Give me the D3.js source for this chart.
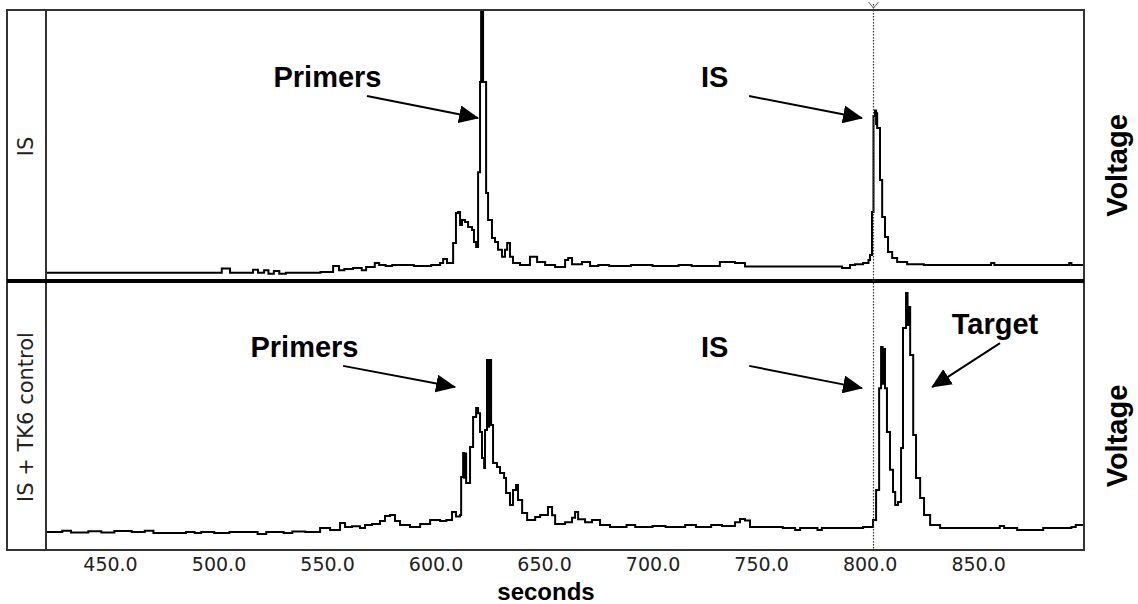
<!DOCTYPE html>
<html>
<head>
<meta charset="utf-8">
<script src="https://cdn.jsdelivr.net/npm/d3@7"></script>
<style>
  html, body { margin: 0; padding: 0; background: #fff; }
  svg { display: block; }
</style>
</head>
<body>
<div id="chart"></div>
<script>
(function() {
  'use strict';

  // time axis (seconds)
  const timeDomain = [420.5, 898.8];
  const tickTimes = [450, 500, 550, 600, 650, 700, 750, 800, 850];
  const cursorTime = 801.6;

  // trace 1: IS only  [seconds, relative voltage]
  const traceIS = [
    [420.5, 2.7], [501.5, 4.3], [505.3, 2.7], [515.9, 3.8], [518.2, 2.7], [521, 3.6], [523, 2.3],
    [525.5, 3.3], [528, 2.3], [531, 2.7], [547, 3.0], [552.8, 5.2], [555.5, 3.6], [558, 4.1],
    [562, 4.5], [566, 3.6], [568, 4.8], [572, 6.3], [574, 5.6], [577, 5.2], [580, 5.6],
    [590, 5.2], [598, 5.6], [602.1, 6.3], [603.5, 7.8], [605.3, 6.3], [608.1, 13.8], [609.4, 24.9],
    [610.4, 25.3], [611.3, 20.4], [612.2, 22.3], [613.6, 21.6], [615.0, 19.7], [616.8, 18.6],
    [617.7, 14.1], [618.7, 12.3], [619.6, 40.1], [620.5, 73.6], [621.0, 115], [621.3, 78],
    [621.6, 115], [621.9, 73.6], [623.3, 32.3], [624.2, 22.3], [626.0, 15.6], [627.4, 14.1],
    [628.8, 11.2], [630.6, 8.6], [632.0, 11.2], [633.0, 13.8], [634.3, 8.6], [635.7, 6.3],
    [638.9, 5.6], [643.5, 8.6], [646.8, 6.7], [650.5, 5.6], [655.1, 4.8], [659.7, 7.4],
    [661.1, 8.2], [662.9, 5.9], [667.5, 6.7], [671.2, 5.2], [675, 5.6], [680, 5.2], [690, 5.6],
    [700, 5.2], [712, 5.6], [718, 5.2], [731, 6.7], [738, 6.3], [742.6, 5.0], [768, 5.0],
    [787.3, 4.5], [791, 5.6], [793.3, 5.9], [797, 6.3], [799.5, 7.4], [800.2, 9.3], [801.1, 25.3],
    [801.8, 61], [802.5, 63], [803.0, 58], [803.2, 62], [803.5, 56.5], [804.8, 37.2],
    [805.8, 23.4], [807.1, 16.0], [808.5, 10.4], [810.4, 8.2], [812.7, 6.7], [817.3, 5.9],
    [825, 5.6], [856, 6.3], [857.5, 5.6], [892, 6.3], [893, 5.6], [898.8, 5.6]
  ];

  // trace 2: IS + TK6 control
  const traceTK6 = [
    [420.5, 6.7], [428, 7.2], [432, 6.5], [440, 7.0], [446, 6.5], [452, 7.1], [460, 6.7],
    [466, 7.2], [470, 6.3], [485, 6.7], [489, 6.3], [492, 6.7], [498, 6.3], [505, 6.7],
    [518, 6.0], [522, 6.7], [530, 6.3], [534, 6.9], [540, 6.7], [546.8, 8.2], [551.4, 7.5],
    [556, 10.1], [558.3, 8.6], [561.5, 8.9], [565.2, 8.2], [567.5, 9.3], [570.7, 9.7],
    [574.4, 10.8], [576.7, 12.7], [579, 13.1], [581.3, 10.8], [583.6, 9.3], [588.2, 8.6],
    [592.9, 9.7], [597.5, 11.2], [602.1, 10.8], [605, 11.2], [607.6, 14.2], [609.4, 12.5],
    [611.3, 13.1], [611.8, 27.2], [612.7, 36.2], [613.1, 27], [613.6, 36], [614.1, 25.0],
    [615.9, 38.4], [617.3, 49.6], [618.7, 53.0], [619.6, 51], [620.5, 44.0], [621.4, 34.3],
    [622.4, 30.6], [622.8, 44.8], [623.7, 70.9], [624.2, 46], [624.7, 70.9], [625.6, 46.6],
    [626.5, 32.5], [628.3, 31.0], [629.7, 28.7], [631.6, 26.9], [632.5, 21.3], [634.3, 16.8],
    [635.7, 22.4], [637.1, 24.3], [638.0, 18.7], [639.9, 13.8], [642.2, 11.2], [645.9, 12.3],
    [648.2, 13.1], [651.8, 16.0], [653.7, 13], [655.1, 9.7], [659.7, 10.4], [662.9, 12],
    [664.3, 14.2], [665.7, 11.5], [668.9, 10.4], [672.1, 11.2], [675.8, 9.3], [680.4, 8.6],
    [688, 9.3], [692, 8.6], [700, 9.0], [706, 8.6], [715, 9.3], [720, 8.6], [727, 9.3],
    [732, 9.0], [738, 10.4], [740.3, 11.6], [742.6, 11.0], [744.9, 8.6], [760, 8.2],
    [765.7, 7.5], [768, 8.2], [776, 7.5], [778, 8.2], [795, 8.2], [797, 8.6], [800.6, 8.6],
    [801.6, 11.2], [803.0, 22.4], [804.4, 60.4], [805.3, 75.7], [806.0, 62], [806.5, 75],
    [807.1, 60.4], [808.0, 44.0], [809.4, 29.9], [810.8, 21.6], [811.8, 16.8], [813.1, 17.9],
    [814.5, 38.1], [815.4, 82.8], [816.8, 95.9], [817.5, 84], [817.9, 90.7], [818.7, 72.8],
    [820.1, 42.9], [821.4, 26.9], [823.3, 19.4], [825.1, 13.1], [827.9, 9.3], [832.5, 8.2],
    [858, 8.2], [860, 9.0], [862, 8.2], [868, 7.5], [880, 8.2], [893, 8.6], [895, 9.3],
    [898.8, 9.0]
  ];

  // annotations in data units: label point, arrow start, arrow tip
  const notesIS = [
    { text: 'Primers', at: [550.2, 71.7], from: [568.4, 68.4], to: [619.6, 60.2] },
    { text: 'IS', at: [728.6, 71.7], from: [744.5, 68.4], to: [796.5, 60.2] }
  ];
  const notesTK6 = [
    { text: 'Primers', at: [539.6, 72.0], from: [557.4, 68.7], to: [609.0, 60.8] },
    { text: 'IS', at: [728.6, 72.0], from: [744.5, 68.7], to: [796.5, 60.4] },
    { text: 'Target', at: [857.8, 80.6], from: [860.1, 77.2], to: [828.8, 60.8] }
  ];

  const width = 1138, height = 604;
  const boxLeft = 7, boxTop = 10, plotLeft = 46, plotRight = 1084, boxBottom = 550;

  const panels = [
    { label: 'IS', data: traceIS, notes: notesIS, top: 11, bottom: 280 },
    { label: 'IS + TK6 control', data: traceTK6, notes: notesTK6, top: 282, bottom: 550 }
  ];

  const svg = d3.select('#chart').append('svg')
    .attr('width', width)
    .attr('height', height);

  const defs = svg.append('defs');
  defs.append('marker')
    .attr('id', 'arrow')
    .attr('viewBox', '0 0 20 18')
    .attr('refX', 19)
    .attr('refY', 9)
    .attr('markerWidth', 20)
    .attr('markerHeight', 18)
    .attr('markerUnits', 'userSpaceOnUse')
    .attr('orient', 'auto')
    .append('path')
    .attr('d', 'M0,0L20,9L0,18Z')
    .attr('fill', '#000');

  const x = d3.scaleLinear().domain(timeDomain).range([plotLeft, plotRight]);

  panels.forEach(function(p, i) {
    const y = d3.scaleLinear().domain([0, 100]).range([p.bottom, p.top]);

    defs.append('clipPath')
      .attr('id', 'clip' + i)
      .append('rect')
      .attr('x', plotLeft)
      .attr('y', p.top)
      .attr('width', plotRight - plotLeft)
      .attr('height', p.bottom - p.top);

    const line = d3.line()
      .x(function(d) { return x(d[0]); })
      .y(function(d) { return y(d[1]); })
      .curve(d3.curveStepAfter);

    svg.append('path')
      .datum(p.data)
      .attr('clip-path', 'url(#clip' + i + ')')
      .attr('fill', 'none')
      .attr('stroke', '#000')
      .attr('stroke-width', 2)
      .attr('d', line);

    // panel name in the left column
    svg.append('text')
      .attr('transform', 'translate(33,' + ((p.top + p.bottom) / 2 + 1) + ') rotate(-90)')
      .attr('text-anchor', 'middle')
      .style('font-family', 'DejaVu Sans, sans-serif')
      .style('font-size', '21px')
      .attr('fill', '#222')
      .text(p.label);

    // Voltage label on the right
    svg.append('text')
      .attr('transform', 'translate(1127,' + ((p.top + p.bottom) / 2 + 20) + ') rotate(-90)')
      .attr('text-anchor', 'middle')
      .style('font-family', 'Liberation Sans, Arial, sans-serif')
      .style('font-weight', 'bold')
      .style('font-size', '29px')
      .text('Voltage');

    // annotations
    const g = svg.append('g').attr('class', 'notes');
    g.selectAll('text')
      .data(p.notes)
      .enter()
      .append('text')
      .attr('x', function(d) { return x(d.at[0]); })
      .attr('y', function(d) { return y(d.at[1]); })
      .attr('text-anchor', 'middle')
      .style('font-family', 'Liberation Sans, Arial, sans-serif')
      .style('font-weight', 'bold')
      .style('font-size', '29px')
      .text(function(d) { return d.text; });
    g.selectAll('line')
      .data(p.notes)
      .enter()
      .append('line')
      .attr('x1', function(d) { return x(d.from[0]); })
      .attr('y1', function(d) { return y(d.from[1]); })
      .attr('x2', function(d) { return x(d.to[0]); })
      .attr('y2', function(d) { return y(d.to[1]); })
      .attr('stroke', '#000')
      .attr('stroke-width', 2)
      .attr('marker-end', 'url(#arrow)');
  });

  // frame
  svg.append('rect')
    .attr('x', boxLeft)
    .attr('y', boxTop)
    .attr('width', plotRight - boxLeft)
    .attr('height', boxBottom - boxTop)
    .attr('fill', 'none')
    .attr('stroke', '#333')
    .attr('stroke-width', 2);
  svg.append('line')
    .attr('x1', plotLeft).attr('x2', plotLeft)
    .attr('y1', boxTop).attr('y2', boxBottom)
    .attr('stroke', '#333')
    .attr('stroke-width', 2);
  svg.append('line')
    .attr('x1', boxLeft).attr('x2', plotRight)
    .attr('y1', 281).attr('y2', 281)
    .attr('stroke', '#000')
    .attr('stroke-width', 4);

  // dotted cursor
  const cx = Math.round(x(cursorTime)) + 0.5;
  svg.append('line')
    .attr('x1', cx).attr('x2', cx)
    .attr('y1', 4).attr('y2', boxBottom)
    .attr('stroke', '#333')
    .attr('stroke-width', 1.2)
    .attr('stroke-dasharray', '1.5,1.5');
  svg.append('path')
    .attr('d', 'M' + (cx - 5) + ',2L' + cx + ',8L' + (cx + 5) + ',2')
    .attr('fill', 'none')
    .attr('stroke', '#555')
    .attr('stroke-width', 1);

  // x axis
  const axis = d3.axisBottom(x)
    .tickValues(tickTimes)
    .tickFormat(d3.format('.1f'))
    .tickSize(0)
    .tickPadding(8);
  const ax = svg.append('g')
    .attr('transform', 'translate(0,' + boxBottom + ')')
    .call(axis);
  ax.select('.domain').remove();
  ax.selectAll('text')
    .style('font-family', 'DejaVu Sans, sans-serif')
    .style('font-size', '19px')
    .attr('fill', '#222');

  svg.append('text')
    .attr('x', 546)
    .attr('y', 600)
    .attr('text-anchor', 'middle')
    .style('font-family', 'Liberation Sans, Arial, sans-serif')
    .style('font-weight', 'bold')
    .style('font-size', '24px')
    .text('seconds');
})();
</script>
</body>
</html>
